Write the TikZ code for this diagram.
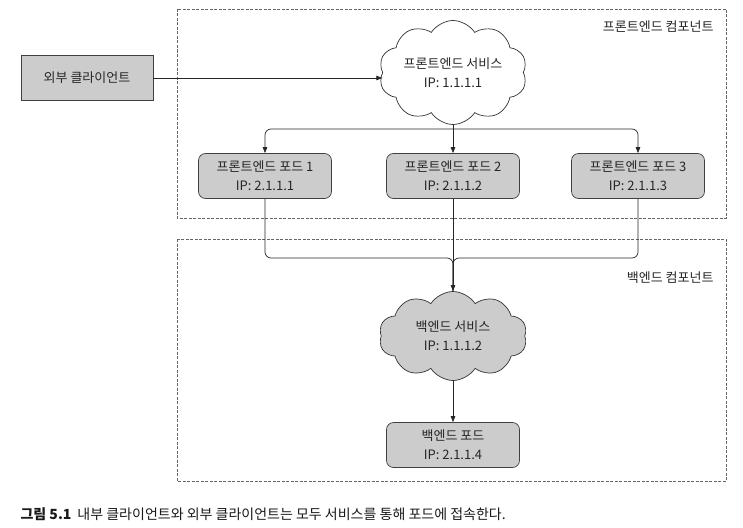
\documentclass[tikz,border=0pt]{standalone}
\usepackage{fontspec}
\setmainfont{Noto Sans CJK KR}
\usetikzlibrary{shapes.symbols,arrows.meta}
\begin{document}
\begin{tikzpicture}[x=1pt,y=-1pt,
  every node/.style={font=\fontsize{13}{19}\selectfont, text=black!85},
  podbox/.style={draw=black!75, fill=black!20, rounded corners=7pt, minimum width=133pt, minimum height=45pt, align=center, line width=0.7pt},
  extbox/.style={draw=black!75, fill=black!20, minimum width=132pt, minimum height=45pt, line width=0.7pt},
  cloudbox/.style={cloud, cloud puffs=10, cloud puff arc=115, aspect=1.65, draw=black!80, minimum width=148pt, minimum height=89pt, inner sep=0pt, align=center, line width=0.7pt},
  group/.style={draw=black!60, dash pattern=on 3pt off 1.5pt, line width=0.7pt},
  conn/.style={draw=black!85, line width=0.7pt},
  arr/.style={conn, -{Triangle[length=6pt,width=4.5pt]}},
]
\useasboundingbox (0,0) rectangle (743,527);
\draw[group] (177,9) rectangle (726,218);
\draw[group] (177,239) rectangle (726,481);
\node[anchor=east] (flabel) at (717,27) {프론트엔드 컴포넌트};
\node[anchor=east] (blabel) at (717,278) {백엔드 컴포넌트};
\node[extbox] (ext) at (87,78) {외부 클라이언트};
\node[cloudbox, fill=white] (fsvc) at (453,72.5) {프론트엔드 서비스\\IP: 1.1.1.1};
\node[podbox] (pod1) at (265,176) {프론트엔드 포드 1\\IP: 2.1.1.1};
\node[podbox] (pod2) at (453,176) {프론트엔드 포드 2\\IP: 2.1.1.2};
\node[podbox] (pod3) at (638,176) {프론트엔드 포드 3\\IP: 2.1.1.3};
\node[cloudbox, fill=black!20] (bsvc) at (453,336) {백엔드 서비스\\IP: 1.1.1.2};
\node[podbox] (bpod) at (453,445) {백엔드 포드\\IP: 2.1.1.4};
\coordinate (split) at (453,129);
\coordinate (merge) at (453,258);
\draw[arr] (ext.east) -- (ext.east -| fsvc.west);
\draw[conn] (fsvc.south) -- (split);
\draw[arr, rounded corners=6pt] (split) -| (pod1.north);
\draw[arr, rounded corners=6pt] (split) -| (pod3.north);
\draw[arr] (split) -- (pod2.north);
\draw[conn, rounded corners=6pt] (pod1.south) |- (merge) -- (bsvc.north);
\draw[conn, rounded corners=6pt] (pod3.south) |- (merge) -- (bsvc.north);
\draw[arr] (pod2.south) -- (bsvc.north);
\draw[arr] (bsvc.south) -- (bpod.north);
\node[anchor=west, font=\fontsize{14}{16}\selectfont, text=black!90] (cap) at (17,514) {\textbf{그림 5.1}\hspace{6pt}내부 클라이언트와 외부 클라이언트는 모두 서비스를 통해 포드에 접속한다.};
\end{tikzpicture}
\end{document}
